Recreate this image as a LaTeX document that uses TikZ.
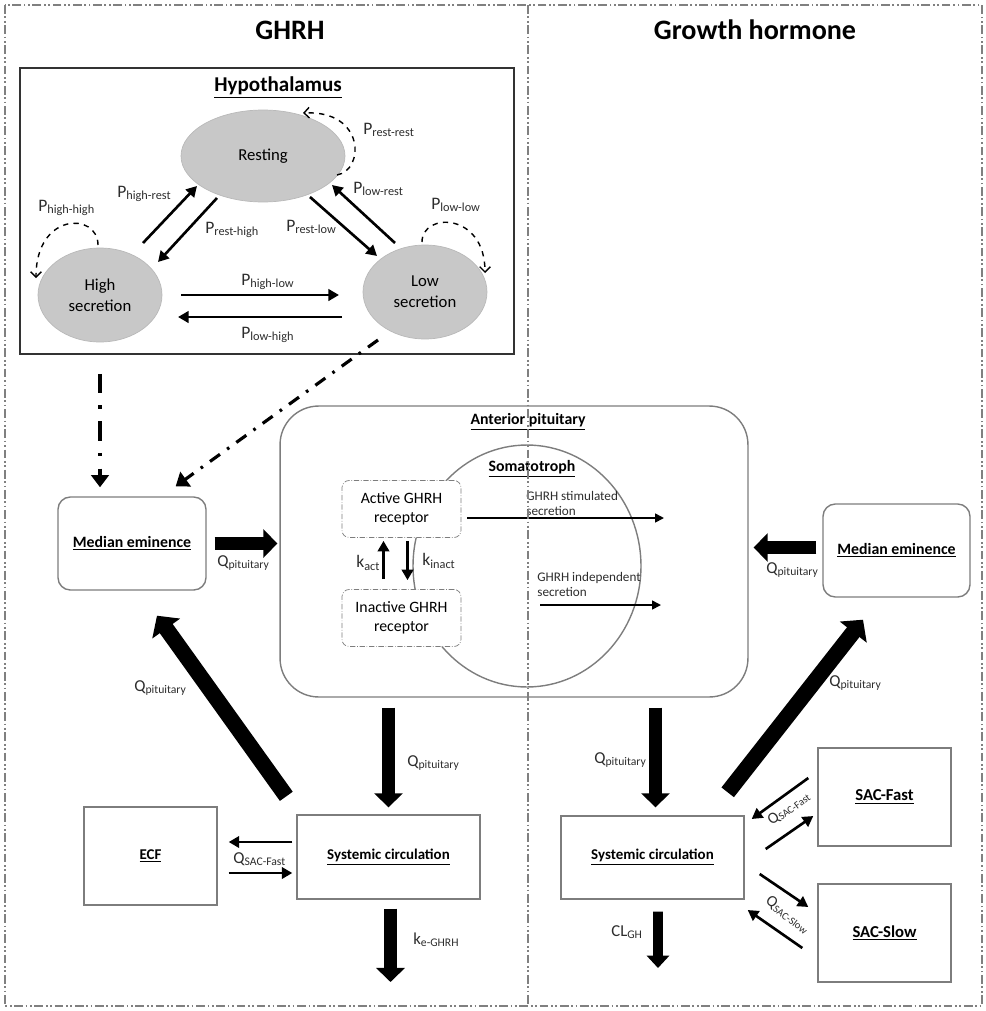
\documentclass[tikz,border=0pt]{standalone}
\usepackage{fontspec}
\setmainfont{Carlito}
\usepackage{tikz}
\usetikzlibrary{arrows.meta, positioning, calc, shapes.geometric}
\definecolor{boxgray}{RGB}{125,125,125}
\definecolor{phasefill}{RGB}{200,200,200}
\definecolor{txtgray}{RGB}{45,45,45}

\begin{document}
\begin{tikzpicture}[x=0.02cm, y=-0.02cm, font=\fontsize{9}{11}\selectfont,
  phase/.style={ellipse, draw=gray!55, fill=phasefill, align=center, minimum width=2.48cm, minimum height=1.88cm, font=\fontsize{9.5}{12}\selectfont},
  compbox/.style={draw=boxgray, line width=0.8pt, align=center, font=\fontsize{8.5}{10}\selectfont\bfseries},
  roundbox/.style={compbox, rounded corners=7pt, font=\fontsize{9}{11}\selectfont\bfseries},
  recbox/.style={draw=boxgray, densely dash dot, rounded corners=4pt, fill=white, align=center, minimum width=2.38cm, minimum height=1.14cm},
  headtxt/.style={font=\fontsize{9}{11}\selectfont\bfseries},
  thinarr/.style={-{Triangle[length=6pt,width=6.5pt]}, line width=1.5pt},
  secarr/.style={-{Triangle[length=5pt,width=5pt]}, line width=0.9pt},
  looparr/.style={-{Straight Barb[length=3pt,width=6pt]}, dashed, line width=0.8pt},
  bigarr/.style={-{Triangle[length=8pt,width=16pt]}, line width=7.5pt},
  smallbig/.style={-{Triangle[length=7pt,width=12.5pt]}, line width=5.5pt},
  diagarr/.style={-{Triangle[length=9pt,width=19pt]}, line width=9pt},
  flowarr/.style={-{Triangle[length=7pt,width=10pt]}, line width=2.2pt, dash pattern=on 11pt off 7pt on 2pt off 7pt},
  flowarrb/.style={-{Triangle[length=7pt,width=10pt]}, line width=1.8pt, dash pattern=on 7pt off 5pt on 1.5pt off 5pt},
  lbl/.style={anchor=west, text=txtgray, inner sep=0pt, font=\fontsize{10}{12}\selectfont},
  qlbl/.style={lbl, font=\fontsize{9.5}{11}\selectfont},
  edgeline/.style={draw=gray, line width=0.6pt, dash pattern=on 5pt off 1.5pt on 1pt off 1.5pt on 1pt off 1.5pt}
]
\useasboundingbox (0,0) rectangle (986,1011);

% frame and titles
\draw[edgeline] (5,5) rectangle (982,1006);
\node[font=\fontsize{16}{19}\selectfont\bfseries] (tghrh) at (290,30) {GHRH};
\node[font=\fontsize{16}{19}\selectfont\bfseries] (tgh) at (755,30) {Growth hormone};

% hypothalamus
\node[draw=black!80, line width=0.9pt, minimum width=9.88cm, minimum height=5.72cm] (hypo) at (267,211) {};
\node[font=\fontsize{12}{14}\selectfont\bfseries] (thypo) at (278,88) {\underline{Hypothalamus}};
\node[phase, minimum width=3.28cm, minimum height=1.84cm] (rest) at (263,156) {Resting};
\node[phase] (high) at (100,295) {High\\secretion};
\node[phase] (low) at (425,292) {Low\\secretion};

% transitions
\draw[thinarr] ($(high)+(43,-52)$) -- ($(rest)+(-66,30)$);
\draw[thinarr] ($(rest)+(-46,42)$) -- ($(high)+(58,-33)$);
\draw[thinarr] ($(rest)+(47,41)$) -- ($(low)+(-48,-36)$);
\draw[thinarr] ($(low)+(-30,-49)$) -- ($(rest)+(69,29)$);
\draw[thinarr] ($(high)+(81,0)$) -- ($(low)+(-86,3)$);
\draw[thinarr] ($(low)+(-83,25)$) -- ($(high)+(78,22)$);
\draw[looparr] ($(rest)+(74,19)$) .. controls ($(rest)+(102,14)$) and ($(rest)+(102,-46)$) .. ($(rest)+(40,-43)$);
\draw[looparr] ($(high)+(-2,-50)$) .. controls ($(high)+(-2,-83)$) and ($(high)+(-64,-83)$) .. ($(high)+(-64,-17)$);
\draw[looparr] ($(low)+(-3,-50)$) .. controls ($(low)+(-3,-80)$) and ($(low)+(60,-80)$) .. ($(low)+(60,-19)$);

\node[lbl] (prr) at (363,130) {P\textsubscript{rest-rest}};
\node[lbl] (phh) at (38,208) {P\textsubscript{high-high}};
\node[lbl] (pll) at (431,205) {P\textsubscript{low-low}};
\node[lbl] (phr) at (117,194) {P\textsubscript{high-rest}};
\node[lbl] (prh) at (205,230) {P\textsubscript{rest-high}};
\node[lbl] (prl) at (286,227) {P\textsubscript{rest-low}};
\node[lbl] (plr) at (353,189) {P\textsubscript{low-rest}};
\node[lbl] (phl) at (241,282) {P\textsubscript{high-low}};
\node[lbl] (plh) at (241,335) {P\textsubscript{low-high}};

% median eminence (GHRH)
\node[roundbox, minimum width=2.96cm, minimum height=1.86cm] (medL) at (132,543.5) {\underline{Median eminence}};
\coordinate (lowfoot) at ($(low)+(-47,48)$);
\draw[flowarr] ($(hypo.south)+(-167,19)$) -- ($(medL.north)+(-32,-9)$);
\draw[flowarrb] (lowfoot) -- ($(medL.north east)+(-31,-10)$);

% anterior pituitary
\node[draw=boxgray, line width=0.8pt, rounded corners=22pt, minimum width=9.36cm, minimum height=5.82cm] (ap) at (514,551.5) {};
\node[headtxt] (tap) at (528,422) {\underline{Anterior pituitary}};
\node[draw=boxgray, line width=0.8pt, ellipse, minimum width=4.56cm, minimum height=4.84cm] (soma) at (527,566) {};
\node[headtxt] (tsoma) at (532,469) {\underline{Somatotroph}};
\node[recbox] (act) at (401.5,509) {Active GHRH\\receptor};
\node[recbox] (inact) at (401.5,618) {Inactive GHRH\\receptor};
\draw[thinarr] ($(inact.north)+(-18,-10)$) -- ($(act.south)+(-18,3)$);
\draw[thinarr] ($(act.south)+(6,3)$) -- ($(inact.north)+(6,-9)$);
\node[lbl] (kact) at (356,563) {k\textsubscript{act}};
\node[lbl] (kinact) at (422,561) {k\textsubscript{inact}};

\coordinate (stimend) at (664,518);
\coordinate (indepstart) at (540,605);
\coordinate (independ) at (661,605);
\draw[secarr] ($(act.east)+(6,9)$) -- (stimend);
\draw[secarr] (indepstart) -- (independ);
\node[lbl, align=left, font=\fontsize{7.5}{8.5}\selectfont] (tstim) at (526,503) {GHRH stimulated\\secretion};
\node[lbl, align=left, font=\fontsize{7.5}{8.5}\selectfont] (tindep) at (537,584) {GHRH independent\\secretion};

% median eminence (GH)
\node[roundbox, minimum width=2.94cm, minimum height=1.86cm] (medR) at (896.5,550.5) {\underline{Median eminence}};
\draw[bigarr] ($(medL.east)+(8,0)$) -- ($(ap.west |- medL.east)+(-2,0)$);
\draw[bigarr] ($(medR.west)+(-6,-3)$) -- ($(ap.east |- medR.west)+(5,-3)$);
\node[qlbl] (qml) at (217,563) {Q\textsubscript{pituitary}};
\node[qlbl] (qmr) at (766,570) {Q\textsubscript{pituitary}};

% circulation
\node[compbox, minimum width=3.66cm, minimum height=1.68cm] (sysL) at (388.5,857) {\underline{Systemic circulation}};
\node[compbox, minimum width=2.66cm, minimum height=1.96cm] (ecf) at (150.5,856) {\underline{ECF}};
\node[compbox, minimum width=3.66cm, minimum height=1.66cm] (sysR) at (652.5,857.5) {\underline{Systemic circulation}};
\node[compbox, font=\fontsize{9.5}{11}\selectfont\bfseries, minimum width=2.66cm, minimum height=1.96cm] (fast) at (884.5,797) {\underline{SAC-Fast}};
\node[compbox, font=\fontsize{9.5}{11}\selectfont\bfseries, minimum width=2.66cm, minimum height=1.96cm] (slow) at (884.5,933) {\underline{SAC-Slow}};

\draw[bigarr] ($(ap.south -| sysL.north)+(0,10)$) -- ($(sysL.north)+(0,-7)$);
\draw[bigarr] ($(ap.south -| sysR.north)+(3,10)$) -- ($(sysR.north)+(3,-8)$);
\draw[diagarr] ($(sysL.north west)+(-10,-18)$) -- ($(medL.south)+(25,25)$);
\draw[diagarr] ($(sysR.north east)+(-17,-23)$) -- ($(medR.south)+(-33.5,22)$);
\node[qlbl] (qvl) at (407,763) {Q\textsubscript{pituitary}};
\node[qlbl] (qvr) at (594,760) {Q\textsubscript{pituitary}};
\node[qlbl] (qdl) at (134,688) {Q\textsubscript{pituitary}};
\node[qlbl] (qdr) at (829,683) {Q\textsubscript{pituitary}};

\draw[thinarr] ($(sysL.west)+(-4,-15)$) -- ($(ecf.east)+(11,-14)$);
\draw[thinarr] ($(ecf.east)+(11,17)$) -- ($(sysL.west)+(-4,16)$);
\node[qlbl] (qecf) at (233,859) {Q\textsubscript{SAC-Fast}};

\coordinate (outL) at (390.5,982);
\coordinate (outR) at (658,968);
\draw[bigarr] ($(sysL.south)+(2,9)$) -- (outL);
\draw[smallbig] ($(sysR.south)+(5.5,12)$) -- (outR);
\node[qlbl] (kel) at (413,940) {k\textsubscript{e-GHRH}};
\node[qlbl] (clgh) at (611,932) {CL\textsubscript{GH}};

\draw[thinarr] ($(fast.west)+(-9,-19)$) -- ($(sysR.east)+(7,-38.5)$);
\draw[thinarr] ($(sysR.east)+(21,-8.5)$) -- ($(fast.west)+(-4,19)$);
\draw[thinarr] ($(sysR.east)+(15,16.5)$) -- ($(slow.west)+(-9,-26)$);
\draw[thinarr] ($(slow.west)+(-15,15)$) -- ($(sysR.east)+(3,52.5)$);
\node[text=txtgray, inner sep=0pt, rotate=36, font=\fontsize{9}{11}\selectfont] (qfast) at (789,808) {Q\textsubscript{SAC-Fast}};
\node[text=txtgray, inner sep=0pt, rotate=-37, font=\fontsize{9}{11}\selectfont] (qslow) at (788,915) {Q\textsubscript{SAC-Slow}};

% divider
\draw[edgeline] (528,5) -- (528,1006);
\end{tikzpicture}
\end{document}
